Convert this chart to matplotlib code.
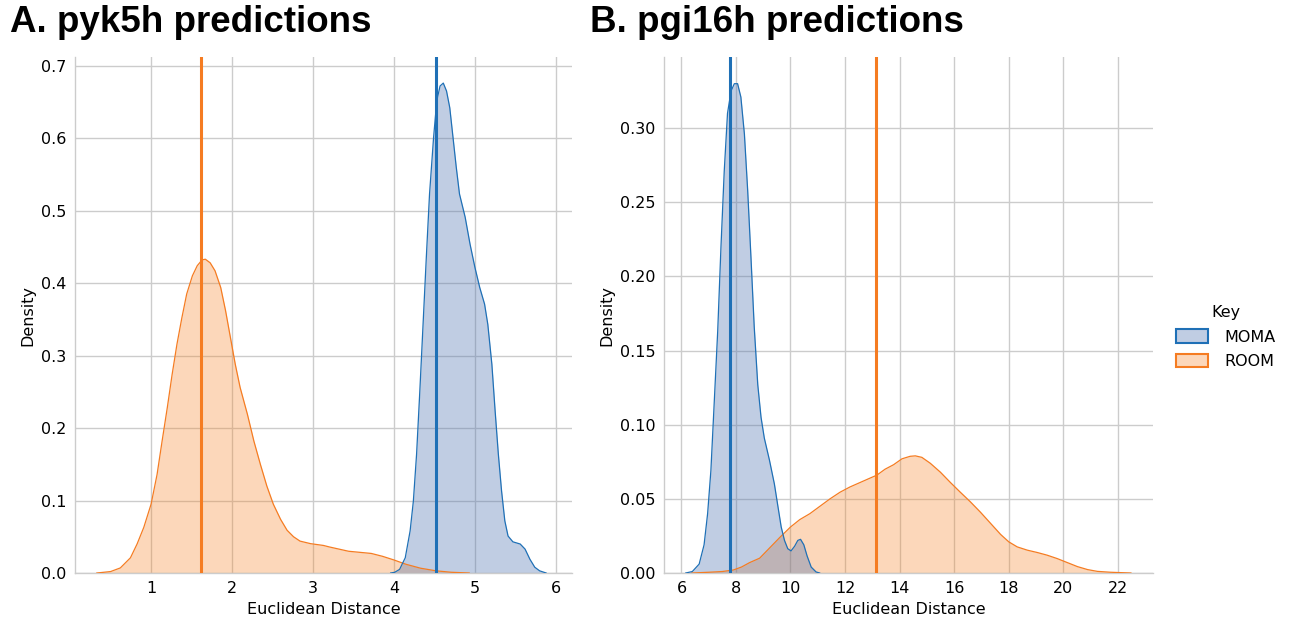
import matplotlib
matplotlib.use("Agg")
import matplotlib.pyplot as plt
from matplotlib.patches import Patch
from matplotlib import font_manager as fm

# ---- Panel A: pyk5h ----
a_moma_x = [3.96, 4.01, 4.07, 4.14, 4.20, 4.24, 4.28, 4.32, 4.36, 4.40, 4.44, 4.49, 4.53, 4.57,
            4.61, 4.65, 4.69, 4.73, 4.77, 4.81, 4.88, 4.94, 5.0, 5.06, 5.12, 5.16, 5.21, 5.25,
            5.29, 5.33, 5.37, 5.41, 5.47, 5.56, 5.62, 5.68, 5.74, 5.80, 5.88]
a_moma_y = [0.0, 0.001, 0.005, 0.021, 0.058, 0.099, 0.164, 0.251, 0.343, 0.435, 0.523, 0.601,
            0.652, 0.672, 0.676, 0.665, 0.642, 0.601, 0.56, 0.523, 0.491, 0.454, 0.422, 0.394,
            0.371, 0.343, 0.288, 0.224, 0.164, 0.113, 0.072, 0.051, 0.043, 0.040, 0.033,
            0.019, 0.008, 0.003, 0.0]
a_room_x = [0.33, 0.50, 0.62, 0.745, 0.827, 0.91, 1.0, 1.074, 1.136, 1.2, 1.26, 1.32, 1.38,
            1.44, 1.51, 1.57, 1.63, 1.67, 1.73, 1.79, 1.86, 1.92, 1.98, 2.04, 2.10, 2.19, 2.27,
            2.35, 2.43, 2.51, 2.60, 2.68, 2.76, 2.84, 2.97, 3.13, 3.2, 3.44, 3.72, 3.86, 4.0,
            4.15, 4.33, 4.52, 4.71, 4.93]
a_room_y = [0.0, 0.002, 0.007, 0.021, 0.04, 0.063, 0.095, 0.136, 0.182, 0.228, 0.274, 0.316,
            0.352, 0.385, 0.41, 0.424, 0.432, 0.433, 0.428, 0.417, 0.394, 0.362, 0.325, 0.288,
            0.256, 0.219, 0.182, 0.15, 0.12, 0.095, 0.074, 0.059, 0.05, 0.044, 0.0405, 0.038,
            0.036, 0.030, 0.027, 0.023, 0.018, 0.012, 0.0066, 0.003, 0.001, 0.0]
a_moma_mean = 4.52
a_room_mean = 1.615

# ---- Panel B: pgi16h ----
b_moma_x = [6.16, 6.40, 6.65, 6.83, 6.96, 7.08, 7.20, 7.33, 7.45, 7.57, 7.69, 7.82, 7.94, 8.06,
            8.18, 8.31, 8.43, 8.55, 8.67, 8.80, 8.92, 9.04, 9.23, 9.41, 9.53, 9.66, 9.78, 9.90,
            10.02, 10.15, 10.27, 10.37, 10.49, 10.61, 10.76, 10.94, 11.07]
b_moma_y = [0.0, 0.001, 0.006, 0.019, 0.040, 0.069, 0.114, 0.163, 0.22, 0.271, 0.31, 0.325,
            0.33, 0.330, 0.321, 0.296, 0.258, 0.213, 0.166, 0.127, 0.105, 0.091, 0.076, 0.060,
            0.046, 0.031, 0.022, 0.0164, 0.0149, 0.018, 0.022, 0.0227, 0.019, 0.0115, 0.004,
            0.0007, 0.0]
b_room_x = [6.38, 7.0, 7.5, 7.9, 8.2, 8.5, 8.87, 9.24, 9.61, 10.0, 10.34, 10.71, 11.08, 11.45,
            11.82, 12.18, 12.55, 12.92, 13.17, 13.47, 13.78, 14.09, 14.39, 14.58, 14.82, 15.13,
            15.50, 15.87, 16.23, 16.60, 16.97, 17.34, 17.71, 18.01, 18.32, 18.69, 19.06, 19.42,
            19.79, 20.16, 20.53, 20.90, 21.26, 21.75, 22.49]
b_room_y = [0.0, 0.0005, 0.001, 0.002, 0.004, 0.007, 0.010, 0.017, 0.024, 0.031, 0.036, 0.040,
            0.045, 0.050, 0.0545, 0.058, 0.061, 0.064, 0.066, 0.070, 0.073, 0.077, 0.0787,
            0.079, 0.078, 0.074, 0.068, 0.061, 0.0545, 0.048, 0.041, 0.0335, 0.026, 0.021,
            0.0176, 0.0154, 0.0138, 0.012, 0.0097, 0.007, 0.0043, 0.0023, 0.0011, 0.0005, 0.0]
b_moma_mean = 7.79
b_room_mean = 13.14

titles = ["A. pyk5h predictions", "B. pgi16h predictions"]
legend_labels = ["MOMA", "ROOM"]
legend_title = "Key"
x_label = "Euclidean Distance"
y_label = "Density"
a_xticks = [1, 2, 3, 4, 5, 6]
a_yticks = [0.0, 0.1, 0.2, 0.3, 0.4, 0.5, 0.6, 0.7]
b_xticks = [6, 8, 10, 12, 14, 16, 18, 20, 22]
b_yticks = [0.00, 0.05, 0.10, 0.15, 0.20, 0.25, 0.30]

BLUE_LINE = "#1f70b6"
BLUE_FILL = "#4c72b0"
ORANGE_LINE = "#f57c22"
ORANGE_FILL = "#f7852a"
GRID = "#cccccc"

# bold title font: Liberation Sans Bold (Arial/Helvetica metrics)
title_fp = None
for f in fm.fontManager.ttflist:
    if f.name == "Liberation Sans" and f.weight in (700, "bold") and f.style == "normal":
        title_fp = fm.FontProperties(fname=f.fname, size=26.5)
        break
if title_fp is None:
    title_fp = fm.FontProperties(family="DejaVu Sans", weight="bold", size=26.5)

fig = plt.figure(figsize=(12.89, 6.17), dpi=100)
axA = fig.add_axes([75/1289, 44/617, (572-75)/1289, (573-57)/617])
axB = fig.add_axes([664/1289, 44/617, (1153-664)/1289, (573-57)/617])


def draw(ax, mx, my, rx, ry, mmean, rmean, xt, yt, xlim, ylim, fmt):
    ax.fill_between(rx, ry, color=ORANGE_FILL, alpha=0.32, lw=0, zorder=2)
    ax.plot(rx, ry, color=ORANGE_LINE, lw=0.9, zorder=3)
    ax.fill_between(mx, my, color=BLUE_FILL, alpha=0.35, lw=0, zorder=2)
    ax.plot(mx, my, color=BLUE_LINE, lw=0.9, zorder=3)
    ax.axvline(rmean, color=ORANGE_LINE, lw=2.2, zorder=4)
    ax.axvline(mmean, color=BLUE_LINE, lw=2.2, zorder=4)
    ax.set_xlim(*xlim)
    ax.set_ylim(*ylim)
    ax.set_xticks(xt)
    ax.set_yticks(yt)
    ax.set_yticklabels([fmt.format(v) for v in yt])
    ax.grid(True, color=GRID, lw=1.0, zorder=0)
    ax.set_axisbelow(True)
    for s in ["top", "right"]:
        ax.spines[s].set_visible(False)
    for s in ["left", "bottom"]:
        ax.spines[s].set_color(GRID)
        ax.spines[s].set_linewidth(1.0)
    ax.tick_params(length=0, labelsize=11.5, pad=6, colors="black")
    ax.set_xlabel(x_label, fontsize=11.5, labelpad=4)
    ax.set_ylabel(y_label, fontsize=11.5, labelpad=4)
    ax.set_facecolor("white")


draw(axA, a_moma_x, a_moma_y, a_room_x, a_room_y, a_moma_mean, a_room_mean,
     a_xticks, a_yticks, (0.06, 6.2), (0, 0.712), "{:.1f}")
draw(axB, b_moma_x, b_moma_y, b_room_x, b_room_y, b_moma_mean, b_room_mean,
     b_xticks, b_yticks, (5.36, 23.3), (0, 0.348), "{:.2f}")

fig.text(10/1289, 1 - 22/617, titles[0], fontproperties=title_fp, va="center", ha="left")
fig.text(590/1289, 1 - 22/617, titles[1], fontproperties=title_fp, va="center", ha="left")

handles = [Patch(facecolor=(0.298, 0.447, 0.690, 0.35), edgecolor=BLUE_LINE, lw=1.5),
           Patch(facecolor=(0.969, 0.522, 0.165, 0.32), edgecolor=ORANGE_LINE, lw=1.5)]
leg = fig.legend(handles, legend_labels, title=legend_title, loc="center left",
                 bbox_to_anchor=(1162/1289, 1 - 337/617), frameon=False,
                 fontsize=11.5, title_fontsize=11.5, handlelength=2.0, handleheight=0.9,
                 handletextpad=1.0, labelspacing=0.6)

fig.savefig("out.png", dpi=100, facecolor="white")
